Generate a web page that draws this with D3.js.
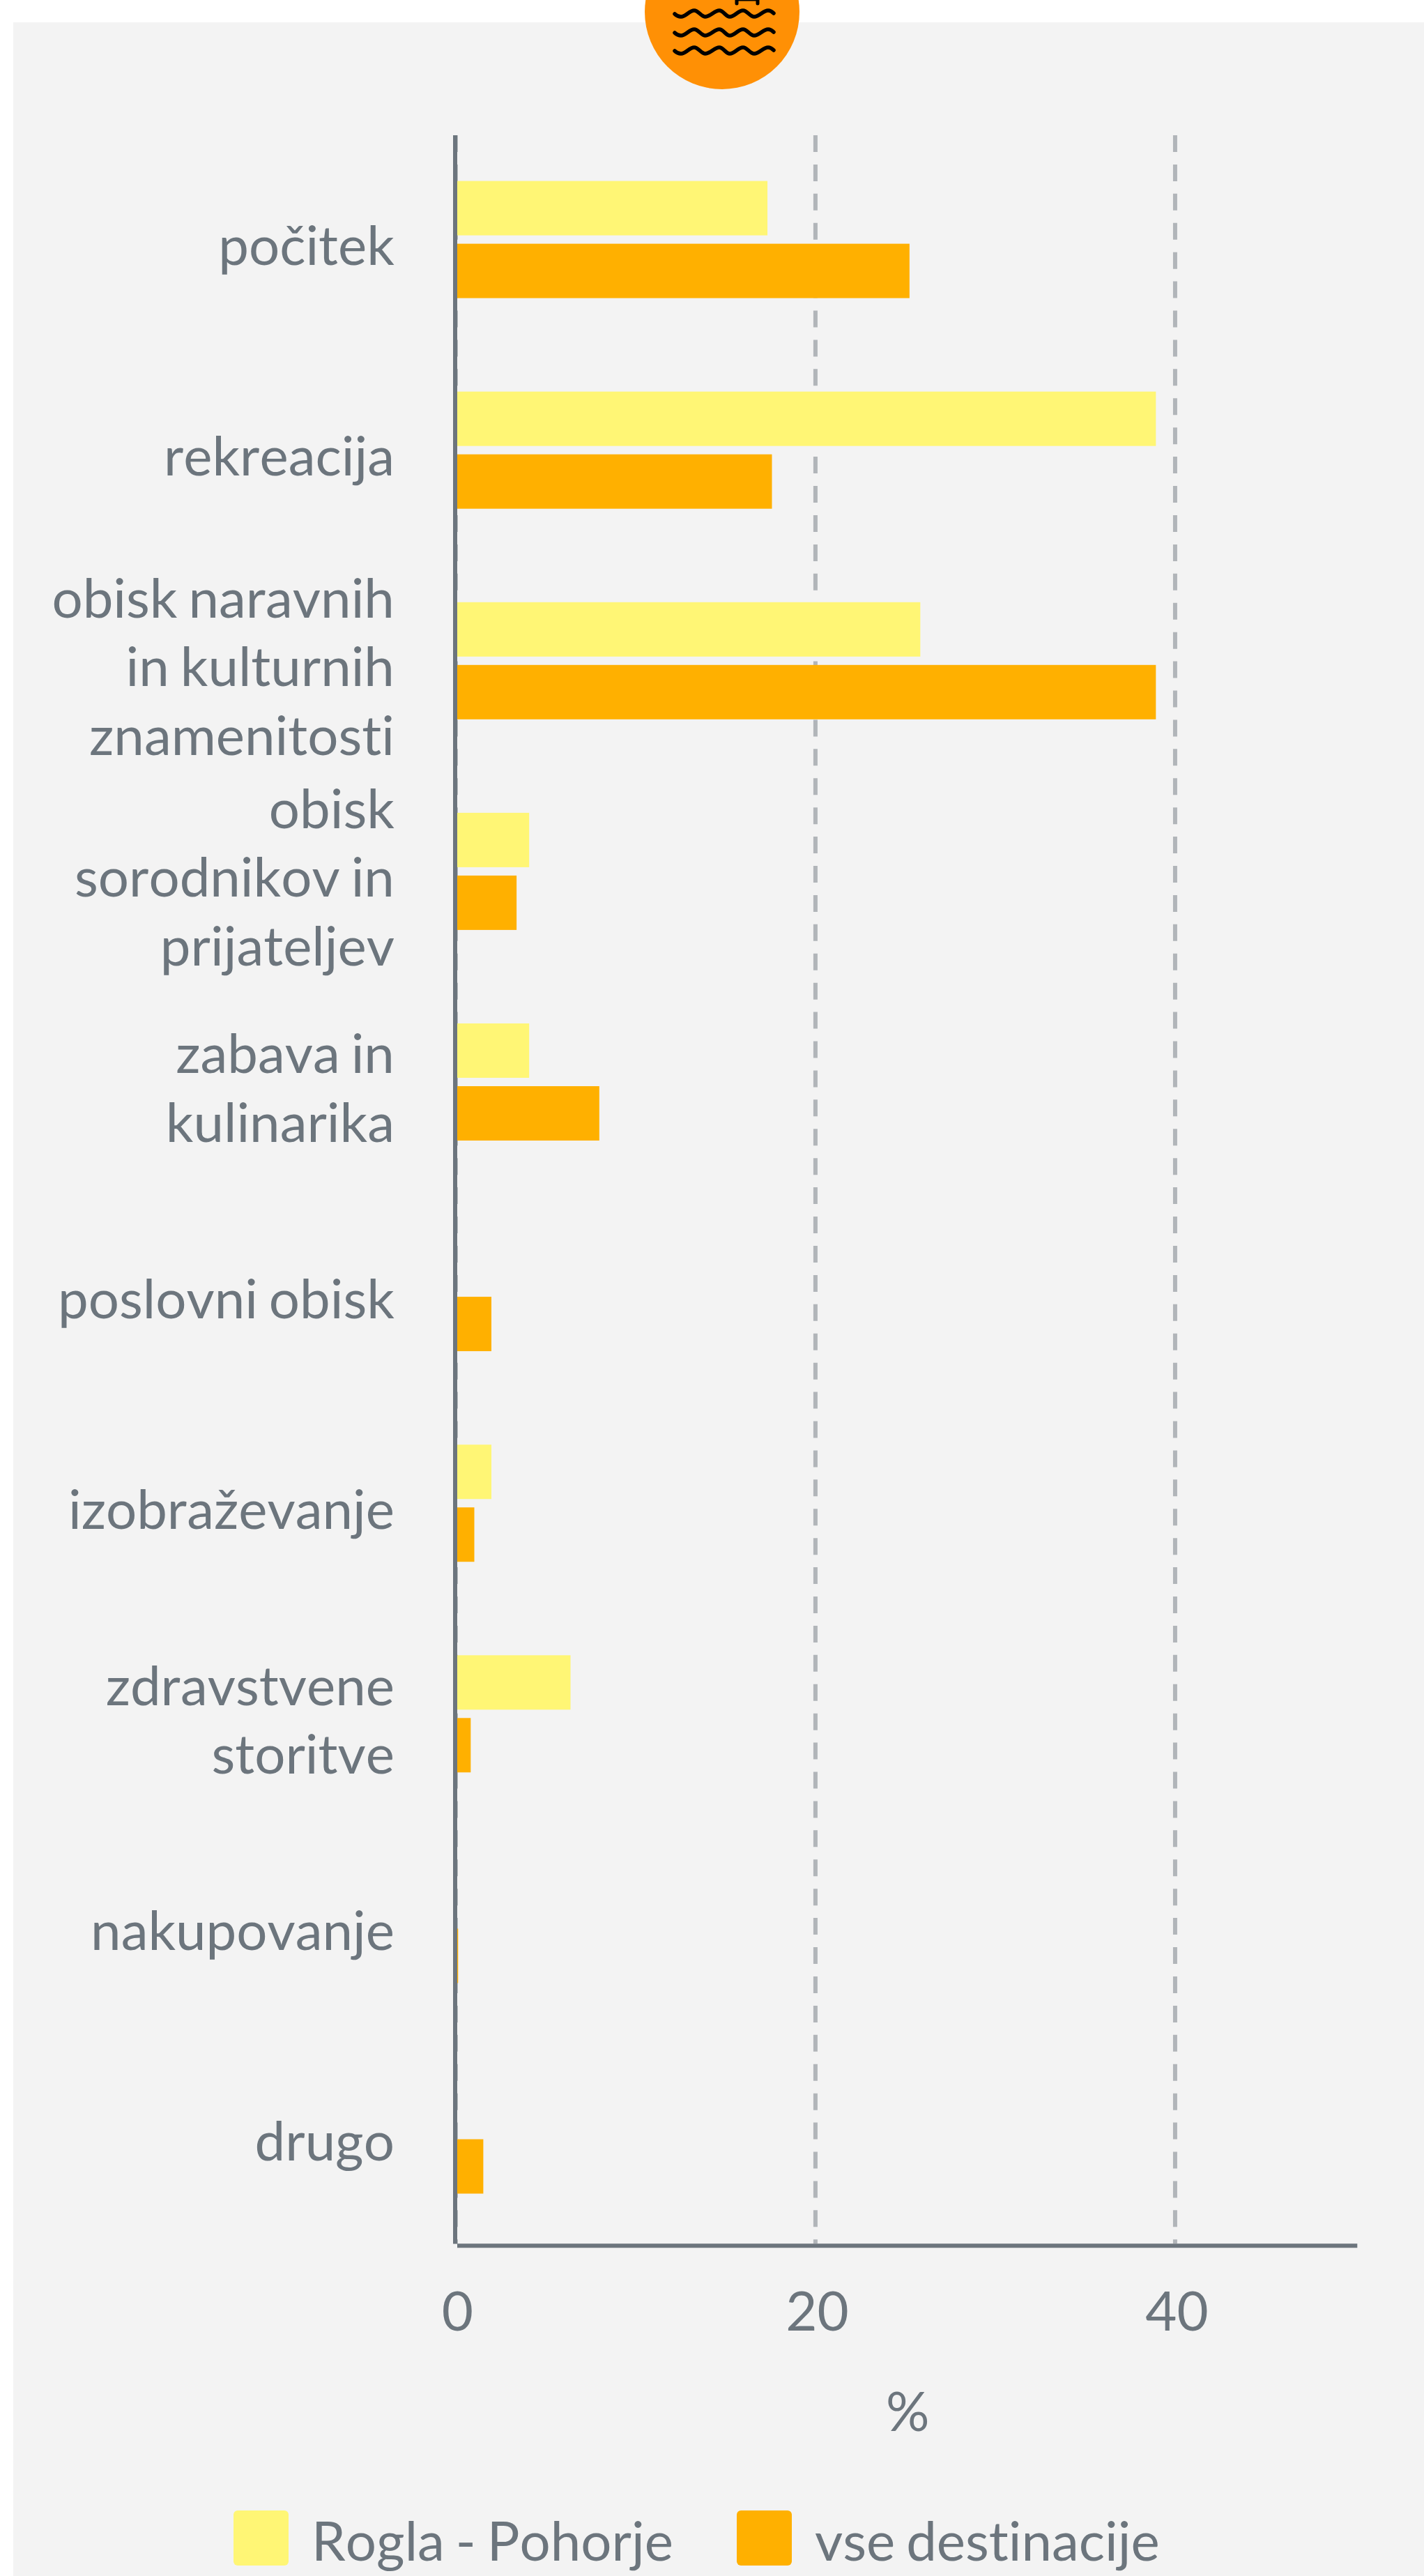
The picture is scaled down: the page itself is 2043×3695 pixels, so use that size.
<!DOCTYPE html>
<html>
  <head>
    <meta http-equiv="Content-Type" content="text/html; charset=UTF-8" />
    <title>Namen potovanja</title>
    <script src="https://cdn.jsdelivr.net/npm/d3@7"></script>
    <style>
      html, body { margin: 0; padding: 0; background: #ffffff; }
      svg { display: block; }
      text { font-family: Lato, sans-serif; fill: #6c757d; font-kerning: none; font-variant-ligatures: none; word-spacing: -4px; }
    </style>
  </head>
  <body>
    <svg width="2043" height="3695" id="mainsvg"></svg>
    <script>
        // chart values
        const categories = [
          ['počitek'],
          ['rekreacija'],
          ['obisk naravnih', 'in kulturnih', 'znamenitosti'],
          ['obisk', 'sorodnikov in', 'prijateljev'],
          ['zabava in', 'kulinarika'],
          ['poslovni obisk'],
          ['izobraževanje'],
          ['zdravstvene', 'storitve'],
          ['nakupovanje'],
          ['drugo']
        ];
        const seriesNames = ['Rogla - Pohorje', 'vse destinacije'];
        const seriesColors = ['#fff675', '#ffb000'];
        const roglaValues = [17.35, 38.95, 25.85, 4.1, 4.1, 0, 2.0, 6.4, 0, 0];
        const vseValues = [25.25, 17.6, 38.95, 3.4, 8.0, 2.0, 1.05, 0.85, 0.15, 1.55];
        const xTicks = [0, 20, 40];
        const xLabel = '%';

        const svg = d3.select('#mainsvg');
        const margin = {top: 194, left: 653.4, right: 95.7, bottom: 476.7};
        const width = +svg.attr('width');
        const height = +svg.attr('height');
        const innerWidth = width - margin.left - margin.right;
        const innerHeight = height - margin.top - margin.bottom;
        const fontSize = 78;
        const lineHeight = 98.5;

        // grey panel
        svg.append('rect').attr('x', 19).attr('y', 32)
          .attr('width', width - 19).attr('height', height - 32)
          .attr('fill', '#f3f3f3');

        // round icon, cut off by the top of the picture
        const icon = svg.append('g').attr('transform', 'translate(1036, 17)');
        icon.append('circle').attr('r', 111).attr('fill', '#ff9005');
        const waveShape = 'C-65 6 -62 7 -59 7 C-52 7 -47 -2 -40 -2 C-34 -2 -30 7 -24 7 C-17 7 -11 -2 -4 -2 C2 -2 5 7 11 7 C18 7 23 -2 30 -2 C36 -2 40 7 46 7 C53 7 59 -2 66 -2 C69 -2 72 0 74 2';
        [0, 27, 53].forEach(y => {
          icon.append('path').attr('d', `M-68 3 ${waveShape}`)
            .attr('transform', `translate(0, ${y})`)
            .attr('fill', 'none').attr('stroke', '#000').attr('stroke-width', 5.5).attr('stroke-linecap', 'round');
        });
        icon.append('path').attr('d', 'M21 -27V-12M51 -27V-12M21 -18H51')
          .attr('fill', 'none').attr('stroke', '#000').attr('stroke-width', 5).attr('stroke-linecap', 'round');

        const g = svg.append('g').attr('transform', `translate(${margin.left}, ${margin.top})`);

        const xScale = d3.scaleLinear().domain([0, 50.15]).range([0, innerWidth]);
        const rowStep = 302.1;
        const yScale = d3.scaleBand().domain(d3.range(categories.length))
          .range([-1.45, -1.45 + rowStep * categories.length]);
        const rowScale = d3.scaleBand().domain(d3.range(seriesNames.length))
          .range([yScale.bandwidth() / 2 - 84, yScale.bandwidth() / 2 + 84])
          .paddingInner(12 / 90);

        // dashed grid lines and the tick labels
        const xAxis = d3.axisBottom(xScale).tickValues(xTicks).tickSize(0).tickPadding(69);
        const xAxisGroup = g.append('g').attr('transform', `translate(0, ${innerHeight})`).call(xAxis);
        xAxisGroup.select('.domain').remove();
        // the dashes are counted from the top, so the line runs downwards
        xAxisGroup.selectAll('line')
          .attr('y1', -innerHeight).attr('y2', 0)
          .attr('stroke', '#b1b5b9').attr('stroke-width', 6).attr('stroke-dasharray', '24 17.92');
        xAxisGroup.selectAll('text').attr('font-size', fontSize).attr('dx', 2.5)
          .attr('fill', '#6c757d').style('font-family', 'Lato');

        // bars
        const rows = g.selectAll('.row').data(categories).enter().append('g')
          .attr('class', 'row')
          .attr('transform', (d, i) => `translate(0, ${yScale(i)})`);
        [roglaValues, vseValues].forEach((values, s) => {
          rows.append('rect')
            .attr('x', 0)
            .attr('y', rowScale(s))
            .attr('width', (d, i) => xScale(values[i]))
            .attr('height', rowScale.bandwidth())
            .attr('fill', seriesColors[s]);
        });

        // category labels, wrapped by hand like the original
        const labels = rows.append('text')
          .attr('text-anchor', 'end')
          .attr('font-size', fontSize);
        labels.selectAll('tspan').data(d => d).enter().append('tspan')
          .attr('x', -87.5)
          .attr('y', function (d, i) {
            const n = d3.select(this.parentNode).datum().length;
            return yScale.bandwidth() / 2 + 36.5 + (i - (n - 1) / 2) * lineHeight;
          })
          .text(d => d);

        // axis lines
        g.append('line').attr('x1', -0.4).attr('x2', -0.4).attr('y1', 0).attr('y2', innerHeight + 0.3)
          .attr('stroke', '#6c757d').attr('stroke-width', 6);
        g.append('line').attr('x1', 2.6).attr('x2', innerWidth).attr('y1', innerHeight + 3).attr('y2', innerHeight + 3)
          .attr('stroke', '#6c757d').attr('stroke-width', 6);

        // axis title
        g.append('text')
          .attr('x', innerWidth / 2 + 2).attr('y', 3487 - margin.top)
          .attr('text-anchor', 'middle').attr('font-size', fontSize)
          .text(xLabel);

        // legend
        const legendX = [335, 1057];
        const legend = svg.selectAll('.legend').data(seriesNames).enter().append('g')
          .attr('class', 'legend')
          .attr('transform', (d, i) => `translate(${legendX[i]}, 3601)`);
        legend.append('rect').attr('width', 79).attr('height', 79).attr('rx', 6)
          .attr('fill', (d, i) => seriesColors[i]);
        legend.append('text').attr('x', 112).attr('y', 72).attr('font-size', fontSize).text(d => d);
    </script>
  </body>
</html>
